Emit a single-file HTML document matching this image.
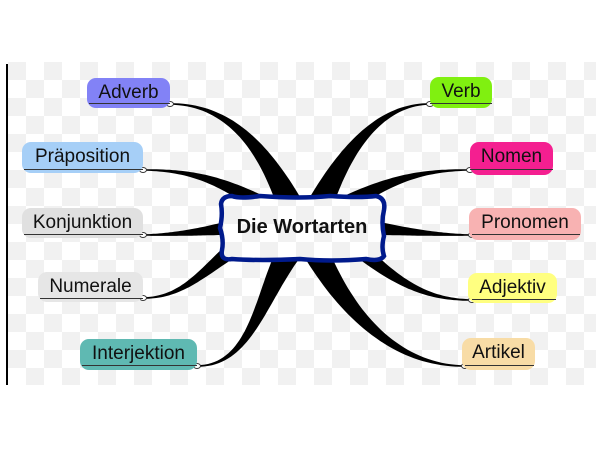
<!DOCTYPE html>
<html><head><meta charset="utf-8"><style>
html,body{margin:0;padding:0;background:#fff;width:600px;height:450px;overflow:hidden}
.n{position:absolute;font-family:"Liberation Sans",sans-serif;font-size:19px;color:#111;border-radius:9px;text-align:center;box-sizing:border-box;line-height:29px}
.u{position:absolute;height:0;border-top:1.5px solid #333}
</style></head><body>
<svg width="600" height="450" style="position:absolute;left:0;top:0">
<defs><pattern id="ck" width="36" height="36" patternUnits="userSpaceOnUse" x="8" y="62">
<rect width="36" height="36" fill="#fff"/><rect width="18" height="18" fill="#f1f1f1"/><rect x="18" y="18" width="18" height="18" fill="#f1f1f1"/></pattern></defs>
<rect x="8" y="62" width="588" height="323" fill="url(#ck)"/>
<line x1="7" y1="64" x2="7" y2="385" stroke="#000" stroke-width="2"/>
<g id="br" fill="#000"></g>
<path d="M232,196 Q240,199 260,196 Q300,199 330,196 Q360,198 376,196 Q386,198 384,210 Q381,222 384,236 Q381,248 384,256 Q380,262 366,259 Q330,262 300,259 Q260,261 232,259 Q220,261 222,250 Q224,240 220,228 Q223,215 221,204 Q222,196 232,196Z" fill="url(#ck)" stroke="#001a8c" stroke-width="4.5"/>
<text x="302" y="233" font-family="Liberation Sans,sans-serif" font-weight="bold" font-size="20" text-anchor="middle" fill="#111">Die Wortarten</text>
<g id="dots" fill="#fff" stroke="#333" stroke-width="1"></g>
</svg>
<div class="n" style="left:87px;top:78px;width:83px;height:30px;background:#8282f6">Adverb</div>
<div class="n" style="left:22px;top:142px;width:121px;height:31px;background:#a6cff7">Präposition</div>
<div class="n" style="left:22px;top:208px;width:121px;height:30px;background:#e0e0e0">Konjunktion</div>
<div class="n" style="left:38px;top:272px;width:105px;height:30px;background:#e6e6e6">Numerale</div>
<div class="n" style="left:80px;top:339px;width:117px;height:31px;background:#5fb9b2">Interjektion</div>
<div class="n" style="left:430px;top:77px;width:62px;height:31px;background:#80f010">Verb</div>
<div class="n" style="left:470px;top:142px;width:83px;height:33px;background:#f41f90">Nomen</div>
<div class="n" style="left:469px;top:208px;width:112px;height:32px;background:#f8b2b2">Pronomen</div>
<div class="n" style="left:468px;top:273px;width:89px;height:30px;background:#ffff80">Adjektiv</div>
<div class="n" style="left:462px;top:338px;width:73px;height:32px;background:#f8dca6">Artikel</div>
<div class="u" style="left:89px;top:103px;width:81px"></div>
<div class="u" style="left:24px;top:169px;width:119px"></div>
<div class="u" style="left:24px;top:234px;width:119px"></div>
<div class="u" style="left:40px;top:298px;width:103px"></div>
<div class="u" style="left:82px;top:365px;width:115px"></div>
<div class="u" style="left:430px;top:103px;width:62px"></div>
<div class="u" style="left:470px;top:169px;width:83px"></div>
<div class="u" style="left:472px;top:234px;width:108px"></div>
<div class="u" style="left:472px;top:299px;width:84px"></div>
<div class="u" style="left:465px;top:365px;width:69px"></div>
<script>
var B=[
[[290,205],[265,150],[230,104],[170,104],24],
[[262,205],[220,180],[190,170],[143,170],16],
[[228,228],[200,232],[170,235],[143,235],12],
[[232,250],[200,275],[180,298],[143,298],14],
[[290,250],[260,300],[250,366],[197,366],24],
[[320,205],[345,150],[380,104],[430,104],24],
[[345,205],[390,180],[420,170],[470,170],16],
[[375,228],[410,232],[440,235],[472,235],12],
[[360,250],[400,285],[430,300],[472,300],14],
[[315,250],[350,320],[400,366],[465,366],24]];
var g=document.getElementById('br'),d=document.getElementById('dots'),ns='http://www.w3.org/2000/svg';
function pt(p,t){var u=1-t;return[u*u*u*p[0][0]+3*u*u*t*p[1][0]+3*u*t*t*p[2][0]+t*t*t*p[3][0],u*u*u*p[0][1]+3*u*u*t*p[1][1]+3*u*t*t*p[2][1]+t*t*t*p[3][1]];}
B.forEach(function(b){var L=[],R=[],N=40;for(var i=0;i<=N;i++){var t=i/N,a=pt(b,Math.max(0,t-.01)),c=pt(b,Math.min(1,t+.01)),p=pt(b,t);var dx=c[0]-a[0],dy=c[1]-a[1],l=Math.hypot(dx,dy);var w=(b[4]*Math.pow(1-t,1.6)+1.6)/2;L.push([p[0]-dy/l*w,p[1]+dx/l*w]);R.unshift([p[0]+dy/l*w,p[1]-dx/l*w]);}
var s='M'+L.concat(R).map(function(q){return q[0].toFixed(1)+','+q[1].toFixed(1)}).join('L')+'Z';var e=document.createElementNS(ns,'path');e.setAttribute('d',s);g.appendChild(e);
var c=document.createElementNS(ns,'ellipse');c.setAttribute('cx',b[3][0]);c.setAttribute('cy',b[3][1]);c.setAttribute('rx',3.5);c.setAttribute('ry',2.5);d.appendChild(c);});
</script>
</body></html>
